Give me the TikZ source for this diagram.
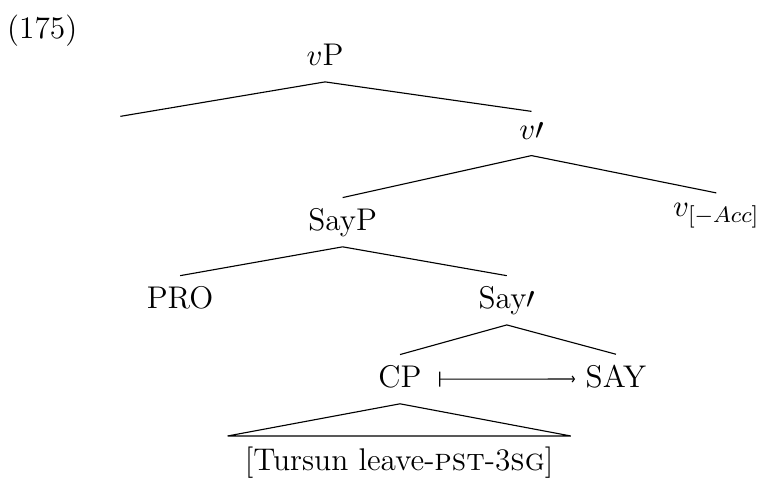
\documentclass[tikz,border=0pt]{standalone}
\usepackage{tikz}
\usepackage{amsmath}
\usepackage{amssymb}
\usetikzlibrary{arrows.meta}

\begin{document}
\begin{tikzpicture}[lab/.style = {anchor = base, inner sep = 3.6pt, text depth = 2.1pt, font = \fontsize{11.2}{13.6}\selectfont}]
        \useasboundingbox (0, 0) rectangle (9.5, -5.99);
        \node (ex) at (0.53, -0.48) [lab] {(175)};
        \node (vP) at (4.08, -0.82) [lab] {$v$P};
        \coordinate (spec) at (1.51, -1.46);
        \node (vbar) at (6.67, -1.745) [lab] {$v\prime$};
        \node (v) at (8.99, -2.72) [lab] {$v_{[-Acc]}$};
        \node (SayP) at (4.30, -2.89) [lab] {SayP};
        \node (PRO) at (2.26, -3.87) [lab] {PRO};
        \node (Saybar) at (6.36, -3.87) [lab] {Say$\prime$};
        \node (CP) at (5.02, -4.86) [lab] {CP};
        \node (SAY) at (7.73, -4.86) [lab] {SAY};
        \node (clause) at (5.01, -5.90) [lab, inner xsep = 6pt] {[Tursun leave-\textsc{pst}-3\textsc{sg}]};
        \draw (spec) -- (vP.south) -- (vbar.north);
        \draw (SayP.north) -- (vbar.south) -- (v.north);
        \draw (PRO.north) -- (SayP.south) -- (Saybar.north);
        \draw (CP.north) -- (Saybar.south) -- (SAY.north);
        \draw (CP.south) -- (clause.north west) -- (clause.north east) -- cycle;
        \draw[{Bar[width = 5.4pt]}-{Straight Barb[length = 0.8pt, width = 2.2pt]}] ([xshift = 2.5pt]CP.east) -- (SAY.west);
    \end{tikzpicture}
\end{document}
